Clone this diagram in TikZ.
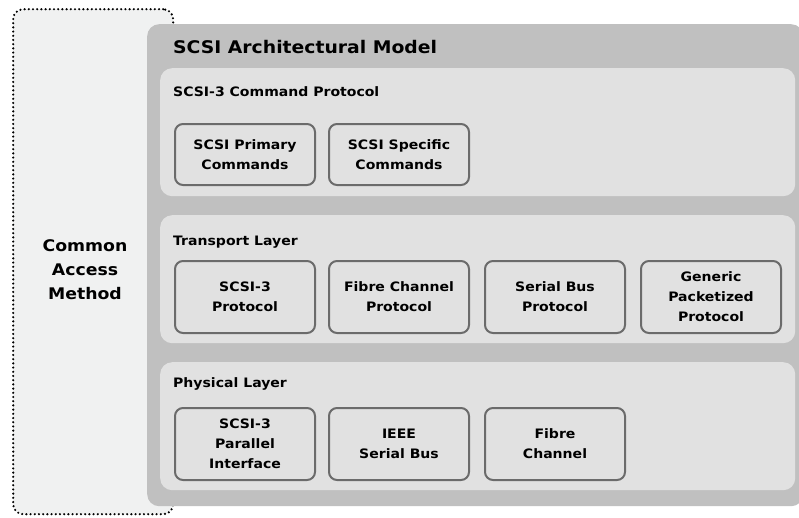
\documentclass[tikz,border=0pt]{standalone}
\usepackage{fontspec}
\setmainfont{DejaVu Sans}[FakeStretch=1.08]
\definecolor{camfill}{HTML}{F0F1F1}
\definecolor{outerfill}{HTML}{C0C0C0}
\definecolor{panelfill}{HTML}{E1E1E1}
\definecolor{boxline}{HTML}{6B6B6B}
\tikzset{
  cam/.style={draw=black, line width=2.4pt, dash pattern=on 0pt off 4.2pt, line cap=round, fill=camfill, rounded corners=10pt, anchor=north west, inner sep=0pt},
  outerbox/.style={fill=outerfill, rounded corners=12pt, anchor=north west, inner sep=0pt},
  panel/.style={fill=panelfill, rounded corners=12pt, anchor=north west, inner sep=0pt, minimum width=635pt, minimum height=128pt},
  compbox/.style={draw=boxline, line width=2pt, fill=panelfill, rounded corners=8pt, minimum width=140pt, inner sep=0pt, align=center, font=\bfseries\fontsize{13}{20}\selectfont},
  ttl/.style={anchor=west, inner sep=0pt, font=\bfseries\fontsize{13}{16}\selectfont},
}
\begin{document}
\begin{tikzpicture}[x=1pt,y=-1pt]
\useasboundingbox (0,0) rectangle (799,517);
% Common Access Method dotted frame
\node[cam, minimum width=160pt, minimum height=505pt] (camframe) at (12,8) {};
% outer model box
\node[outerbox, minimum width=656pt, minimum height=482pt] (model) at (147,24) {};
\node[ttl, font=\bfseries\fontsize{17.4}{20}\selectfont] (modeltitle) at (173,47) {SCSI Architectural Model};
% panels
\node[panel] (cmdp) at (160,68) {};
\node[panel] (trp) at (160,215) {};
\node[panel] (php) at (160,362) {};
\node[ttl] (cmdt) at (173,92) {SCSI-3 Command Protocol};
\node[ttl] (trt) at (173,242) {Transport Layer};
\node[ttl] (pht) at (173,384) {Physical Layer};
% command boxes
\node[compbox, minimum height=61pt] (spc) at (245,154.5) {SCSI Primary\\Commands};
\node[compbox, minimum height=61pt] (ssc) at (399,154.5) {SCSI Specific\\Commands};
% transport boxes
\node[compbox, minimum height=72pt] (s3p) at (245,297) {SCSI-3\\Protocol};
\node[compbox, minimum height=72pt] (fcp) at (399,297) {Fibre Channel\\Protocol};
\node[compbox, minimum height=72pt] (sbp) at (555,297) {Serial Bus\\Protocol};
\node[compbox, minimum height=72pt] (gpp) at (711,297) {Generic\\Packetized\\Protocol};
% physical boxes
\node[compbox, minimum height=72pt] (spi) at (245,444) {SCSI-3\\Parallel\\Interface};
\node[compbox, minimum height=72pt] (isb) at (399,444) {IEEE\\Serial Bus};
\node[compbox, minimum height=72pt] (fch) at (555,444) {Fibre\\Channel};
% CAM label
\node[align=center, inner sep=0pt, font=\bfseries\fontsize{16}{24}\selectfont] (camlabel) at (85,270) {Common\\Access\\Method};
\end{tikzpicture}
\end{document}
